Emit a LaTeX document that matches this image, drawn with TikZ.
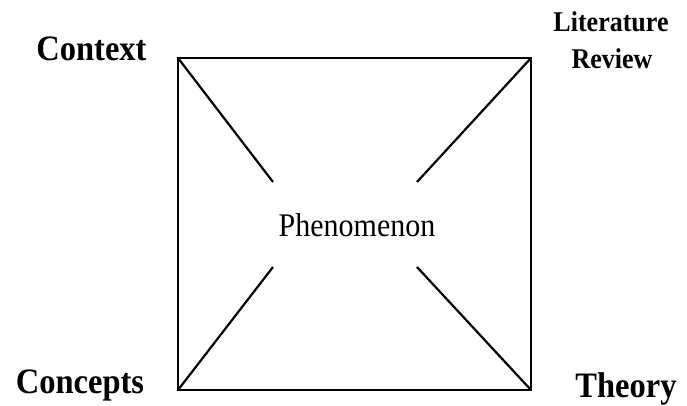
\documentclass[tikz,border=0pt]{standalone}
\usepackage{fontspec}
\setmainfont{Liberation Serif}
\begin{document}
\begin{tikzpicture}[x=1pt,y=1pt,
    phenLine/.style={line width=2.2pt,black},
    phenLabel/.style={font=\fontsize{32.5}{37}\selectfont\bfseries,anchor=base,inner sep=0pt,yscale=1.1},
    phenLabelB/.style={font=\fontsize{26}{37}\selectfont\bfseries,anchor=base,inner sep=0pt,yscale=1.1},
    phenCentre/.style={font=\fontsize{30}{36}\selectfont,anchor=base,inner sep=0pt,yscale=1.1},
]
\useasboundingbox (0,0) rectangle (687,405);
% Square corners
\coordinate (TL) at (178,347);
\coordinate (TR) at (531,347);
\coordinate (BL) at (178,15);
\coordinate (BR) at (531,15);
\draw[phenLine,line join=miter] (TL) -- (TR) -- (BR) -- (BL) -- cycle;
% Inner ends of the diagonals
\coordinate (iTL) at (273,223);
\coordinate (iTR) at (417,223);
\coordinate (iBL) at (273,138);
\coordinate (iBR) at (417,138);
\draw[phenLine] (TL) -- (iTL);
\draw[phenLine] (TR) -- (iTR);
\draw[phenLine] (BL) -- (iBL);
\draw[phenLine] (BR) -- (iBR);
% Labels
\node[phenCentre] (phen) at (357,169) {Phenomenon};
\node[phenLabel] (context) at (91.5,344) {Context};
\node[phenLabelB] (lit) at (611,373) {Literature};
\node[phenLabelB] (review) at (612,336) {Review};
\node[phenLabel] (concepts) at (80,12) {Concepts};
\node[phenLabel] (theory) at (626,8) {Theory};
\end{tikzpicture}
\end{document}
